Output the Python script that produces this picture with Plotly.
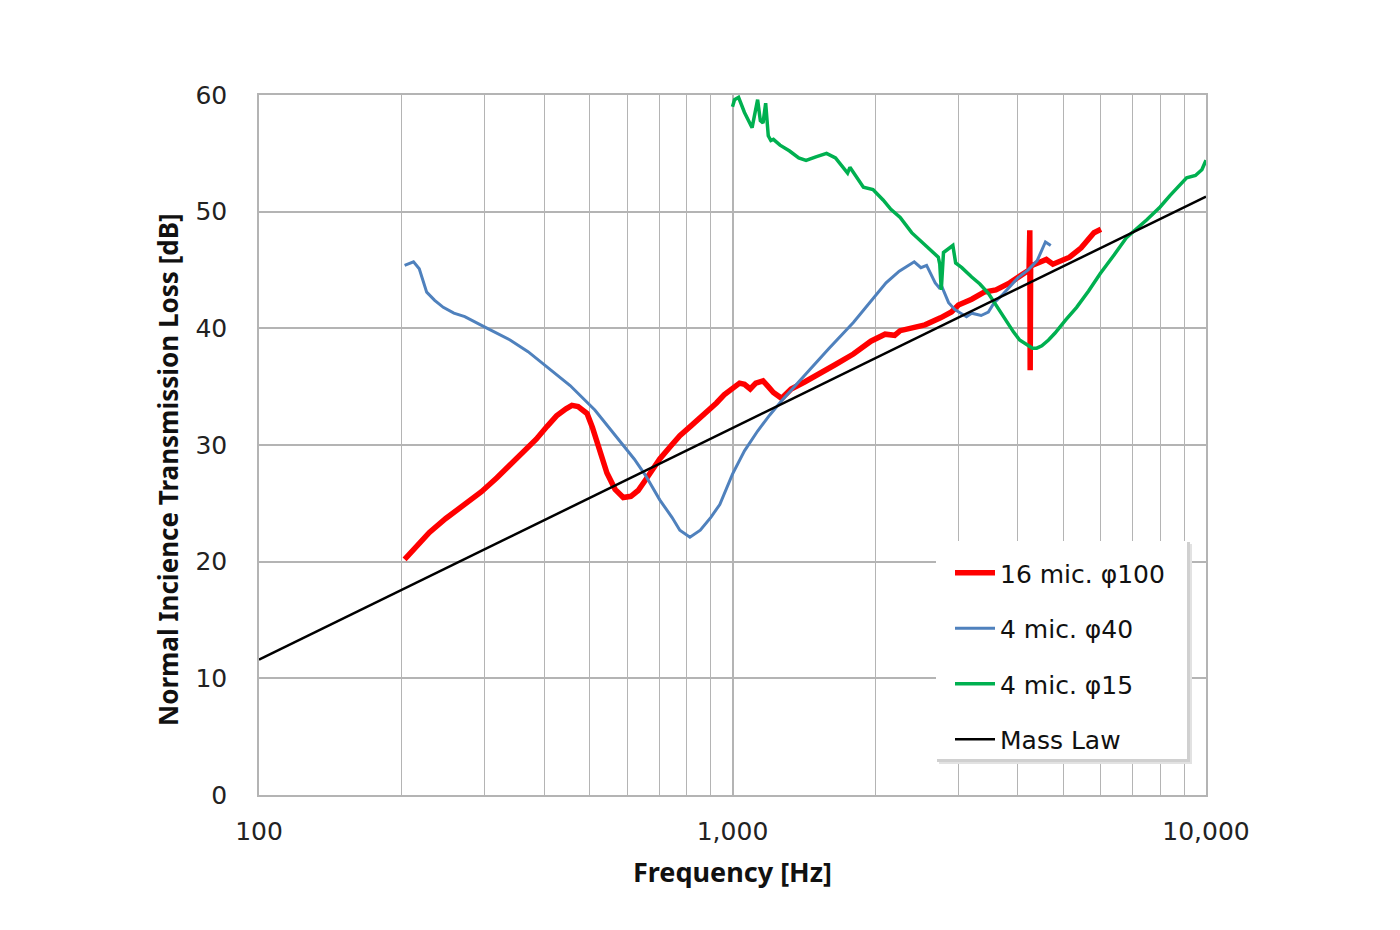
import plotly.graph_objects as go

# ---- data ----
red_f = [203, 215, 229, 248, 270, 295, 318, 340, 361, 385, 406, 425, 445, 458, 472, 493, 506, 520, 543, 565, 588, 610, 632, 655, 680, 702, 740, 774, 815, 855, 895, 925, 960, 1000, 1035, 1060, 1090, 1120, 1160, 1190, 1220, 1270,
         1330, 1420, 1530, 1650, 1800, 1960, 2100, 2200, 2260, 2400, 2550, 2750, 2900, 3000, 3200, 3400, 3600, 3850, 4000, 4150, 4230, 4245, 4250, 4253, 4256, 4262, 4300, 4450, 4600, 4750, 4900, 5150, 5450, 5650, 5800, 6000]
red_db = [20.2, 21.3, 22.5, 23.7, 24.8, 26.0, 27.2, 28.3, 29.3, 30.5, 31.6, 32.5, 33.1, 33.4, 33.3, 32.7, 31.5, 30.0, 27.6, 26.2, 25.5, 25.6, 26.1, 27.0, 28.0, 28.8, 29.9, 30.8, 31.6, 32.3, 33.0, 33.6, 34.3, 34.9, 35.3, 35.2, 34.8, 35.3, 35.5, 35.0, 34.5, 34.0,
          34.8, 35.4, 36.1, 36.9, 37.8, 38.9, 39.5, 39.4, 39.8, 40.0, 40.3, 40.9, 41.4, 42.0, 42.5, 43.1, 43.3, 43.9, 44.3, 44.8, 45.0, 48.4, 42.0, 36.4, 44.5, 45.3, 45.4, 45.7, 45.9, 45.5, 45.7, 46.1, 46.9, 47.6, 48.2, 48.5]

blue_f = [203, 212, 218, 226, 235, 245, 258, 272, 300, 339, 370, 400, 454, 512, 578, 620, 655, 702, 745, 774, 813, 855, 900, 940, 1000, 1060, 1130, 1200, 1270, 1330, 1450, 1600, 1800, 1950, 2110, 2250, 2390, 2420, 2500, 2570, 2680, 2730, 2760, 2860, 2950, 3120, 3200, 3350, 3470, 3570, 3700, 3850, 4000, 4210, 4400, 4580, 4700]
blue_db = [45.4, 45.7, 45.1, 43.1, 42.4, 41.8, 41.3, 41.0, 40.1, 39.0, 38.0, 36.9, 35.1, 33.0, 30.4, 28.8, 27.4, 25.3, 23.8, 22.7, 22.1, 22.7, 23.8, 24.9, 27.5, 29.5, 31.2, 32.6, 33.8, 34.7, 36.4, 38.3, 40.5, 42.2, 43.9, 44.9, 45.6, 45.7, 45.2, 45.4, 43.9, 43.5, 43.7, 42.2, 41.6, 41.0, 41.3, 41.1, 41.4, 42.2, 42.8, 43.6, 44.3, 45.0, 45.8, 47.4, 47.1]

green_f = [1000, 1010, 1030, 1060, 1100, 1115, 1130, 1145, 1160, 1175, 1190, 1205, 1220, 1260, 1320, 1380, 1430, 1500, 1580, 1650, 1720, 1750, 1770, 1830, 1890, 1980, 2080, 2160, 2260, 2390, 2480, 2570, 2650, 2720, 2740, 2760, 2790, 2840, 2920, 2960, 3050, 3200, 3330, 3470, 3570, 3680, 3800, 3920, 4040, 4170, 4300, 4390, 4500, 4650, 4800, 5050, 5330, 5650, 5980, 6400, 6800, 7500, 8000, 8400, 8800, 9100, 9500, 9800, 10000]
green_db = [59.0, 59.6, 59.8, 58.5, 57.2, 58.4, 59.6, 57.8, 57.6, 59.3, 56.5, 56.1, 56.2, 55.7, 55.2, 54.6, 54.4, 54.7, 55.0, 54.6, 53.6, 53.3, 53.8, 52.9, 52.1, 51.9, 51.0, 50.2, 49.5, 48.2, 47.6, 47.0, 46.6, 46.1, 45.5, 43.3, 46.5, 46.7, 47.1, 45.6, 45.2, 44.4, 43.8, 43.0, 42.2, 41.4, 40.5, 39.7, 39.0, 38.6, 38.3, 38.3, 38.5, 39.0, 39.6, 40.7, 41.8, 43.2, 44.7, 46.3, 47.8, 49.3, 50.4, 51.4, 52.3, 52.9, 53.1, 53.6, 54.4]

mass_f = [100, 1000, 10000]
mass_db = [11.6, 31.45, 51.3]

x_tickvals = [100, 1000, 10000]
x_ticktext = ["100", "1,000", "10,000"]
x_minor = [200, 300, 400, 500, 600, 700, 800, 900, 2000, 3000, 4000, 5000, 6000, 7000, 8000, 9000]
y_tickvals = [0, 10, 20, 30, 40, 50, 60]

GRID = "#b4b4b4"
FONT = "DejaVu Sans"
TFONT = "Noto Sans"

fig = go.Figure()
fig.add_trace(go.Scatter(x=red_f, y=red_db, mode="lines", name="16 mic. φ100",
                         line=dict(color="#ff0000", width=5.5), legendgroup="a"))
fig.add_trace(go.Scatter(x=blue_f, y=blue_db, mode="lines", name="4 mic. φ40",
                         line=dict(color="#4f81bd", width=3), legendgroup="b"))
fig.add_trace(go.Scatter(x=green_f, y=green_db, mode="lines", name="4 mic. φ15",
                         line=dict(color="#00b050", width=3.5), legendgroup="c"))
fig.add_trace(go.Scatter(x=mass_f, y=mass_db, mode="lines", name="Mass Law",
                         line=dict(color="#000000", width=2.5), legendgroup="d"))

# plot area in page pixels: x 259..1206, y 95..795 (page has 8px body margin)
def px(x):
    return (x - 259) / 947

def py(y):
    return (795 - y) / 700

# legend shadow + box
fig.add_shape(type="rect", xref="paper", yref="paper",
              x0=px(939), x1=px(1192), y0=py(764), y1=py(544),
              fillcolor="#e2e2e2", line=dict(width=0), layer="above")
fig.add_shape(type="rect", xref="paper", yref="paper",
              x0=px(937), x1=px(1190), y0=py(762), y1=py(542),
              fillcolor="#d0d0d0", line=dict(width=0), layer="above")
fig.add_shape(type="rect", xref="paper", yref="paper",
              x0=px(936), x1=px(1187), y0=py(759), y1=py(541),
              fillcolor="#ffffff", line=dict(width=0), layer="above")

fig.add_annotation(text="<b>Normal Incience Transmission Loss [dB]</b>", textangle=-90,
                   xref="paper", yref="paper", x=px(168), y=py(470),
                   xanchor="center", yanchor="middle", showarrow=False,
                   font=dict(family=TFONT, size=26, color="#111111"))

fig.update_layout(
    width=1400, height=930,
    paper_bgcolor="white", plot_bgcolor="white",
    margin=dict(l=251, r=202, t=87, b=143),
    font=dict(family=FONT, size=25, color="#222222"),
    showlegend=True,
    legend=dict(x=px(950), y=py(550), xanchor="left", yanchor="top",
                bgcolor="rgba(0,0,0,0)", font=dict(family=FONT, size=25, color="#111111"),
                tracegroupgap=20, itemwidth=40),
    xaxis=dict(type="log", range=[2, 4], tickvals=x_tickvals, ticktext=x_ticktext,
               showgrid=True, gridcolor=GRID, gridwidth=1.5,
               minor=dict(tickvals=x_minor, showgrid=True, gridcolor=GRID, gridwidth=1.2, ticklen=0),
               showline=True, linecolor=GRID, linewidth=1.5, mirror=True,
               ticks="", ticklabelstandoff=13,
               tickfont=dict(family=FONT, size=25, color="#222222"),
               title=dict(text="<b>Frequency [Hz]</b>", font=dict(family=TFONT, size=27, color="#111111"), standoff=18),
               zeroline=False),
    yaxis=dict(range=[0, 60], tickvals=y_tickvals, showgrid=True, gridcolor=GRID, gridwidth=1.5,
               showline=True, linecolor=GRID, linewidth=1.5, mirror=True,
               ticks="", ticklabelstandoff=25,
               tickfont=dict(family=FONT, size=25, color="#222222"),
               zeroline=False),
)

fig.write_html("out.html")
